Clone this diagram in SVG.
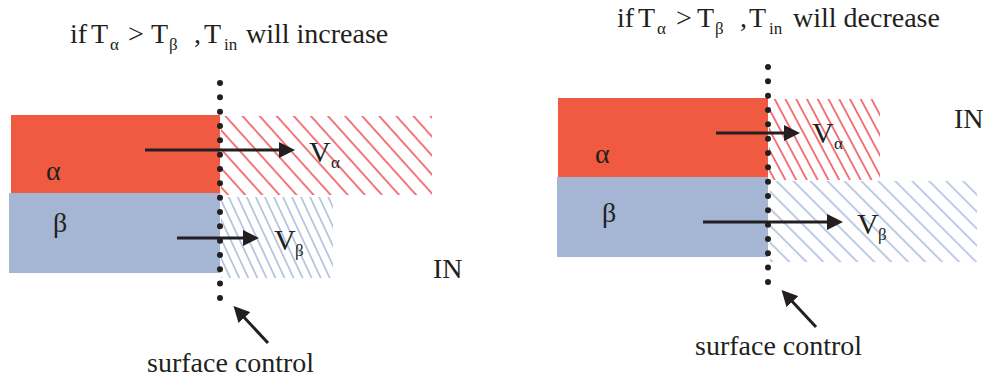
<svg xmlns="http://www.w3.org/2000/svg" width="983" height="381" viewBox="0 0 983 381">
<style>
text{font-family:"Liberation Serif","Times New Roman",serif;fill:#231f20}
.t{font-size:28px}
.sub{font-size:17px}
.lbl{font-size:28px}
.v{font-size:30px}
.vs{font-size:17px}
.in{font-size:28px}
.sc{font-size:28px}
.arr{stroke:#231f20;stroke-width:3;fill:none}
.dots{stroke:#231f20;stroke-width:6;stroke-linecap:round;stroke-dasharray:0 14.33;fill:none}
.hr{stroke:#ec1c24;stroke-width:1.2}
.hb{stroke:#93a8d4;stroke-width:1.2}
</style>
<defs>
<marker id="ah" markerUnits="userSpaceOnUse" markerWidth="17" markerHeight="17" refX="5" refY="8" orient="auto" viewBox="0 0 17 16">
<path d="M0,0 L16,8 L0,16 z" fill="#231f20"/>
</marker>
<pattern id="hrL" patternUnits="userSpaceOnUse" width="12.7" height="30" patternTransform="rotate(-42)">
<line class="hr" x1="1" y1="0" x2="1" y2="30"/>
</pattern>
<pattern id="hbL" patternUnits="userSpaceOnUse" width="8.2" height="30" patternTransform="rotate(-25)">
<line class="hb" x1="1" y1="0" x2="1" y2="30"/>
</pattern>
<pattern id="hrR" patternUnits="userSpaceOnUse" width="9.5" height="30" patternTransform="rotate(-28)">
<line class="hr" x1="1" y1="0" x2="1" y2="30"/>
</pattern>
<pattern id="hbR" patternUnits="userSpaceOnUse" width="12" height="30" patternTransform="rotate(-45)">
<line class="hb" x1="1" y1="0" x2="1" y2="30"/>
</pattern>
</defs>

<g id="left-title"><text class="t" y="43"><tspan x="70">if</tspan><tspan x="91">T</tspan><tspan class="sub" x="110" y="50">α</tspan><tspan x="128" y="43">&gt;</tspan><tspan x="151">T</tspan><tspan class="sub" x="169" y="50">β</tspan><tspan x="194" y="43">,</tspan><tspan x="204">T</tspan><tspan class="sub" x="224" y="50">in</tspan><tspan x="246" y="43">will increase</tspan></text></g>

<g id="left-alpha"><rect x="11" y="115" width="209" height="78" fill="#f05a40"/><text class="lbl" x="46" y="180">α</text></g>
<g id="left-beta"><rect x="9" y="193" width="211" height="80" fill="#a5b5d4"/><text class="lbl" x="53" y="232">β</text></g>
<g id="left-alpha-hatch"><rect x="221" y="116" width="211" height="79" fill="url(#hrL)"/></g>
<g id="left-beta-hatch"><rect x="221" y="197" width="112" height="81" fill="url(#hbL)"/></g>
<g id="left-in"><text class="in" x="433" y="278">IN</text></g>
<g id="left-va"><text class="v" x="309" y="162">V<tspan class="vs" x="331" y="168">α</tspan></text></g>
<g id="left-vb"><text class="v" x="274" y="250">V<tspan class="vs" x="295" y="256">β</tspan></text></g>
<g id="left-surface"><line class="dots" x1="220" y1="83" x2="220" y2="298.1"/><text class="sc" x="147" y="372">surface control</text></g>

<g id="right-title"><text class="t" y="27"><tspan x="617">if</tspan><tspan x="638">T</tspan><tspan class="sub" x="657" y="34">α</tspan><tspan x="676" y="27">&gt;</tspan><tspan x="697">T</tspan><tspan class="sub" x="715" y="34">β</tspan><tspan x="740" y="27">,</tspan><tspan x="749">T</tspan><tspan class="sub" x="769" y="34">in</tspan><tspan x="793" y="27">will decrease</tspan></text></g>

<g id="right-alpha"><rect x="558" y="98" width="210" height="79" fill="#f05a40"/><text class="lbl" x="595" y="163">α</text></g>
<g id="right-beta"><rect x="557" y="177" width="211" height="80" fill="#a5b5d4"/><text class="lbl" x="602" y="222">β</text></g>
<g id="right-alpha-hatch"><rect x="769" y="99" width="111" height="81" fill="url(#hrR)"/></g>
<g id="right-beta-hatch"><rect x="770" y="181" width="207" height="81" fill="url(#hbR)"/></g>
<g id="right-in"><text class="in" x="954" y="128">IN</text></g>
<g id="right-va"><text class="v" x="812" y="143">V<tspan class="vs" x="834" y="149">α</tspan></text></g>
<g id="right-vb"><text class="v" x="857" y="234">V<tspan class="vs" x="878" y="240">β</tspan></text></g>
<g id="right-surface"><line class="dots" x1="768" y1="67" x2="768" y2="282.1"/><text class="sc" x="695" y="355">surface control</text></g>

<g id="connectors">
<line class="arr" x1="145" y1="150" x2="284" y2="150" marker-end="url(#ah)"/>
<line class="arr" x1="177" y1="238" x2="248" y2="238" marker-end="url(#ah)"/>
<line class="arr" x1="716" y1="133" x2="789" y2="133" marker-end="url(#ah)"/>
<line class="arr" x1="703" y1="222" x2="832" y2="222" marker-end="url(#ah)"/>
<line class="arr" x1="268" y1="343" x2="241" y2="314" marker-end="url(#ah)"/>
<line class="arr" x1="816" y1="327" x2="789" y2="298" marker-end="url(#ah)"/>
</g>
</svg>
